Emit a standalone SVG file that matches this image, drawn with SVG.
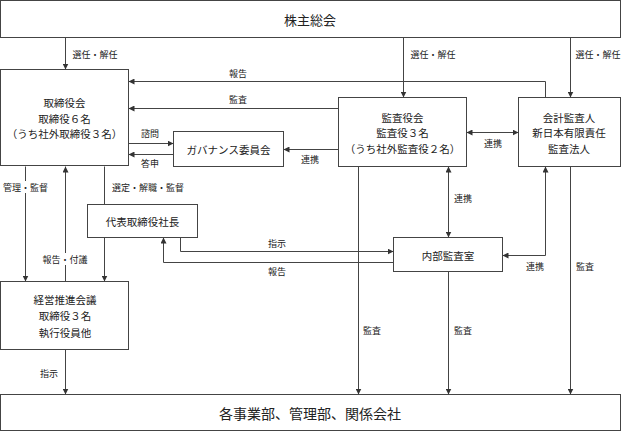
<svg xmlns="http://www.w3.org/2000/svg" width="621" height="432" viewBox="0 0 621 432">
<defs>
<marker id="ah" markerWidth="6" markerHeight="6" refX="6" refY="3" orient="auto" markerUnits="userSpaceOnUse">
<path d="M0,0 L6,3 L0,6 Z" fill="#333"/>
</marker>
<marker id="as" markerWidth="6" markerHeight="6" refX="0" refY="3" orient="auto" markerUnits="userSpaceOnUse">
<path d="M6,0 L0,3 L6,6 Z" fill="#333"/>
</marker>
<style>
.box{fill:#fff;stroke:#444;stroke-width:1}
.t{font-family:"Noto Sans CJK JP","Noto Sans",sans-serif;font-size:10.5px;fill:#222;text-anchor:middle;dominant-baseline:central}
.big{font-size:13px}
.lab{font-family:"Noto Sans CJK JP","Noto Sans",sans-serif;font-size:9px;fill:#222;text-anchor:middle;dominant-baseline:central}
.c{fill:none;stroke:#444;stroke-width:1}
.a{marker-end:url(#ah)}
.b{marker-start:url(#as);marker-end:url(#ah)}
.bg{fill:#fff}
</style>
</defs>

<g id="connectors">
<path class="c a" d="M65.5,37.5 V69.5"/>
<path class="c a" d="M403.5,37.5 V97.5"/>
<path class="c a" d="M570.5,37.5 V97.5"/>
<path class="c a" d="M545.5,97.5 V81.5 H128.5"/>
<path class="c a" d="M338.5,108.5 H128.5"/>
<path class="c a" d="M128.5,143.5 H173.5"/>
<path class="c a" d="M173.5,154.5 H128.5"/>
<path class="c a" d="M338.5,149.5 H283.5"/>
<path class="c b" d="M466.5,132.5 H518.5"/>
<path class="c b" d="M448.5,166.5 V237.5"/>
<path class="c a" d="M358.5,166.5 V394.5"/>
<path class="c b" d="M545.5,166.5 V255.5 H502.5"/>
<path class="c a" d="M570.5,166.5 V394.5"/>
<path class="c a" d="M448.5,271.5 V394.5"/>
<path class="c" d="M104.5,166.5 V204.5"/>
<path class="c a" d="M104.5,237.5 V281.5"/>
<path class="c a" d="M25.5,166.5 V281.5"/>
<path class="c a" d="M65.5,281.5 V166.5"/>
<path class="c a" d="M180.5,237.5 V251.5 H393.5"/>
<path class="c a" d="M393.5,262.5 H163.5 V237.5"/>
<path class="c a" d="M65.5,349.5 V394.5"/>
<rect class="bg" x="3" y="181" width="46" height="12"/>
<rect class="bg" x="42" y="253" width="46" height="12"/>
<text class="lab" x="95" y="54">選任・解任</text>
<text class="lab" x="433" y="54">選任・解任</text>
<text class="lab" x="598" y="54">選任・解任</text>
<text class="lab" x="238" y="73">報告</text>
<text class="lab" x="238" y="99">監査</text>
<text class="lab" x="150" y="133">諮問</text>
<text class="lab" x="150" y="163">答申</text>
<text class="lab" x="310" y="159">連携</text>
<text class="lab" x="493" y="143">連携</text>
<text class="lab" x="463" y="198">連携</text>
<text class="lab" x="25.5" y="187">管理・監督</text>
<text class="lab" x="148" y="187">選定・解職・監督</text>
<text class="lab" x="65" y="259">報告・付議</text>
<text class="lab" x="277" y="243">指示</text>
<text class="lab" x="277" y="271">報告</text>
<text class="lab" x="49" y="373">指示</text>
<text class="lab" x="372" y="330">監査</text>
<text class="lab" x="463" y="330">監査</text>
<text class="lab" x="535" y="266">連携</text>
<text class="lab" x="585" y="266">監査</text>
</g>

<g id="shareholders">
<rect class="box" x="0.5" y="0.5" width="620" height="37"/>
<text class="t big" x="310" y="19">株主総会</text>
</g>

<g id="board">
<rect class="box" x="0.5" y="69.5" width="128" height="96"/>
<text class="t" x="64.5" y="102.5">取締役会</text>
<text class="t" x="64.5" y="118">取締役６名</text>
<text class="t" x="64.5" y="133.5">（うち社外取締役３名）</text>
</g>

<g id="governance">
<rect class="box" x="173.5" y="131.5" width="110" height="35"/>
<text class="t" x="228.5" y="149">ガバナンス委員会</text>
</g>

<g id="auditboard">
<rect class="box" x="338.5" y="97.5" width="128" height="69"/>
<text class="t" x="402.5" y="117">監査役会</text>
<text class="t" x="402.5" y="132.5">監査役３名</text>
<text class="t" x="402.5" y="148">（うち社外監査役２名）</text>
</g>

<g id="accountant">
<rect class="box" x="518.5" y="97.5" width="102" height="69"/>
<text class="t" x="569" y="117">会計監査人</text>
<text class="t" x="569" y="132.5">新日本有限責任</text>
<text class="t" x="569" y="148">監査法人</text>
</g>

<g id="president">
<rect class="box" x="87.5" y="204.5" width="110" height="33"/>
<text class="t" x="142.5" y="221">代表取締役社長</text>
</g>

<g id="internalaudit">
<rect class="box" x="393.5" y="237.5" width="109" height="34"/>
<text class="t" x="448" y="255">内部監査室</text>
</g>

<g id="management">
<rect class="box" x="0.5" y="281.5" width="128" height="68"/>
<text class="t" x="65" y="299">経営推進会議</text>
<text class="t" x="65" y="315.5">取締役３名</text>
<text class="t" x="65" y="332">執行役員他</text>
</g>

<g id="divisions">
<rect class="box" x="0.5" y="394.5" width="620" height="36"/>
<text class="t big" x="310" y="413" style="font-size:14px">各事業部、管理部、関係会社</text>
</g>
</svg>
